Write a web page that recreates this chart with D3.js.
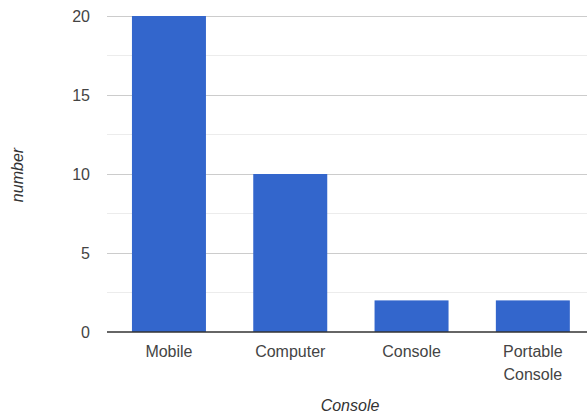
<!DOCTYPE html>
<html><head><meta charset="utf-8">
<script src="https://cdn.jsdelivr.net/npm/d3@7"></script>
<style>body{margin:0;background:#fff}svg{display:block}text{font-family:"Liberation Sans",Arial,sans-serif}</style>
</head><body><svg id="c" width="587" height="417"></svg>
<script>
const categories = ["Mobile", "Computer", "Console", "Portable Console"];
const values = [20, 10, 2, 2];
const yTicks = [0, 5, 10, 15, 20];
const minorTicks = [2.5, 7.5, 12.5, 17.5];
const xTitle = "Console";
const yTitle = "number";

const svg = d3.select("#c");
const x = d3.scaleBand().domain(categories).range([108.3, 593.5]).paddingInner(0.39).paddingOuter(0.195);
const y = d3.scaleLinear().domain([0, 20]).range([332, 16]);

svg.append("g").selectAll("line").data(minorTicks).join("line")
  .attr("x1", 107).attr("x2", 587).attr("y1", d => y(d)).attr("y2", d => y(d))
  .attr("stroke", "#ececec").attr("stroke-width", 1);

const yAxis = svg.append("g").attr("transform", "translate(107,0)")
  .call(d3.axisLeft(y).tickValues(yTicks).tickSize(-480).tickPadding(17));
yAxis.select(".domain").remove();
yAxis.selectAll(".tick line").attr("stroke", d => d === 0 ? "none" : "#cccccc");
yAxis.selectAll(".tick text").attr("fill", "#444").style("font-size", "16px");

svg.append("g").selectAll("rect").data(values).join("rect")
  .attr("x", (d, i) => x(categories[i])).attr("width", x.bandwidth())
  .attr("y", d => y(d)).attr("height", d => y(0) - y(d))
  .attr("fill", "#3366cc");

svg.append("line").attr("x1", 107).attr("x2", 587).attr("y1", y(0)).attr("y2", y(0))
  .attr("stroke", "#333").attr("stroke-width", 1.3);

const xAxis = svg.append("g").attr("transform", `translate(0,${y(0)})`)
  .call(d3.axisBottom(x).tickSize(0).tickPadding(13.5));
xAxis.select(".domain").remove();
xAxis.selectAll(".tick text").attr("fill", "#444").style("font-size", "16px")
  .each(function(d) {
    const t = d3.select(this);
    const words = d.split(" ");
    if (words.length > 1) {
      t.text(null);
      words.forEach((w, i) => t.append("tspan").attr("x", 0).attr("dy", i === 0 ? "0.71em" : "1.44em").text(w));
      t.attr("dy", null);
    }
  });

svg.append("text").attr("x", 350).attr("y", 411).attr("text-anchor", "middle")
  .attr("fill", "#333").style("font-size", "16px").style("font-style", "italic").text(xTitle);
svg.append("text").attr("transform", "translate(23,175) rotate(-90)").attr("text-anchor", "middle")
  .attr("fill", "#333").style("font-size", "16px").style("font-style", "italic").text(yTitle);
</script></body></html>
